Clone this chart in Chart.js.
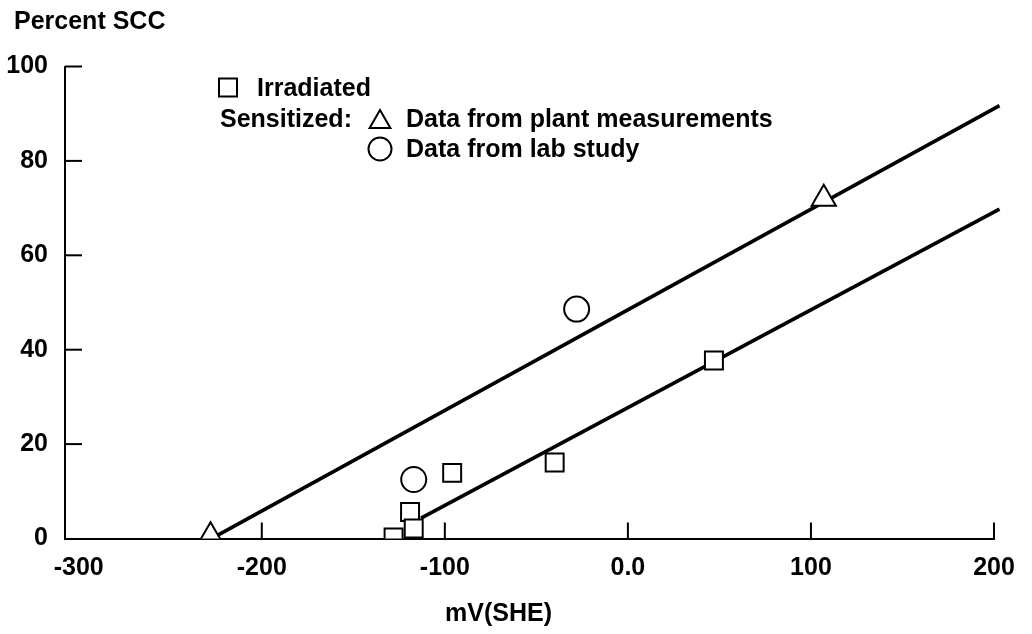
<!DOCTYPE html>
<html><head><meta charset="utf-8">
<script src="https://cdn.jsdelivr.net/npm/chart.js@4/dist/chart.umd.min.js"></script>
<style>html,body{margin:0;padding:0;background:#fff}#wrap{width:1032px;height:634px}</style>
</head><body><div id="wrap"><canvas id="c" width="1032" height="634"></canvas></div>
<script>
// ---- data ----
const xTicks = [-300, -200, -100, 0, 100, 200];
const xTickLabels = ['-300', '-200', '-100', '0.0', '100', '200'];
const yTicks = [0, 20, 40, 60, 80, 100];
const irradiatedX = [-128, -119, -117, -96, -40, 47];
const irradiatedY = [0.2, 5.6, 2.1, 13.9, 16.1, 37.7];
const plantX = [-228, 107];
const plantY = [0.5, 72];
const labX = [-117, -28];
const labY = [12.5, 48.6];
const upperLineX = [-224, 203];
const upperLineY = [0.7, 91.7];
const lowerLineX = [-113, 203];
const lowerLineY = [4.3, 69.8];
const legendLabels = ['Irradiated', 'Data from plant measurements', 'Data from lab study'];
const legendPrefix = 'Sensitized:';
const xTitle = 'mV(SHE)';
const yTitle = 'Percent SCC';

const FONT = '"Liberation Sans", Arial, Helvetica, sans-serif';
const pts = (xs, ys) => xs.map((x, i) => ({x: x, y: ys[i]}));

const markerBase = {showLine: false, backgroundColor: '#fff', borderColor: '#000', borderWidth: 2, order: 0};
const lineBase = {showLine: true, pointRadius: 0, borderColor: '#000', borderWidth: 3.6, clip: false, order: 1, fill: false};

const decor = {
  id: 'decor',
  beforeDatasetsDraw(chart) {
    const ctx = chart.ctx, xs = chart.scales.x, ys = chart.scales.y;
    const yb = ys.getPixelForValue(0), xl = chart.chartArea.left;
    ctx.save();
    ctx.strokeStyle = '#000'; ctx.lineWidth = 2;
    xTicks.forEach(v => {
      if (v <= -300) return;
      const px = xs.getPixelForValue(v);
      ctx.beginPath(); ctx.moveTo(px, yb); ctx.lineTo(px, yb - 16); ctx.stroke();
    });
    yTicks.forEach(v => {
      if (v <= 0) return;
      const py = ys.getPixelForValue(v);
      ctx.beginPath(); ctx.moveTo(xl, py); ctx.lineTo(xl + 17, py); ctx.stroke();
    });
    ctx.restore();
  },
  afterDraw(chart) {
    const ctx = chart.ctx;
    ctx.save();
    ctx.fillStyle = '#000';
    ctx.font = 'bold 25px ' + FONT;
    ctx.textBaseline = 'alphabetic';
    ctx.textAlign = 'left';
    ctx.fillText(yTitle, 14, 29);
    ctx.fillText(xTitle, 445, 621);
    // legend
    ctx.fillText(legendLabels[0], 257, 96);
    ctx.fillText(legendPrefix, 220, 127);
    ctx.fillText(legendLabels[1], 406, 127);
    ctx.fillText(legendLabels[2], 406, 157);
    ctx.strokeStyle = '#000'; ctx.lineWidth = 2; ctx.fillStyle = '#fff';
    // square
    ctx.beginPath(); ctx.rect(219, 78.5, 18, 18); ctx.fill(); ctx.stroke();
    // triangle
    const tx = 380, ty = 122, r = 12;
    ctx.beginPath();
    ctx.moveTo(tx, ty - r);
    ctx.lineTo(tx + r * Math.sin(2 * Math.PI / 3), ty - r * Math.cos(2 * Math.PI / 3));
    ctx.lineTo(tx + r * Math.sin(4 * Math.PI / 3), ty - r * Math.cos(4 * Math.PI / 3));
    ctx.closePath(); ctx.fill(); ctx.stroke();
    // circle
    ctx.beginPath(); ctx.arc(380, 149, 11.5, 0, 2 * Math.PI); ctx.fill(); ctx.stroke();
    ctx.restore();
  }
};

new Chart(document.getElementById('c'), {
  type: 'scatter',
  data: {
    datasets: [
      Object.assign({label: 'upper fit', data: pts(upperLineX, upperLineY)}, lineBase),
      Object.assign({label: 'lower fit', data: pts(lowerLineX, lowerLineY)}, lineBase),
      Object.assign({label: legendLabels[0], data: pts(irradiatedX, irradiatedY), pointStyle: 'rect', pointRadius: 12.7}, markerBase),
      Object.assign({label: legendLabels[1], data: pts(plantX, plantY), pointStyle: 'triangle', pointRadius: 14}, markerBase),
      Object.assign({label: legendLabels[2], data: pts(labX, labY), pointStyle: 'circle', pointRadius: 12.5}, markerBase)
    ]
  },
  options: {
    responsive: false,
    devicePixelRatio: 1,
    animation: false,
    events: [],
    layout: {padding: {top: 66.5, right: 38, left: 0, bottom: 0}},
    plugins: {legend: {display: false}, tooltip: {enabled: false}, title: {display: false}},
    scales: {
      x: {
        type: 'linear', min: -307.5, max: 200,
        afterBuildTicks: s => { s.ticks = xTicks.map(v => ({value: v})); },
        afterFit: s => { s.height = 95.5; },
        grid: {display: false, drawTicks: false},
        border: {display: true, color: '#000', width: 2},
        ticks: {
          color: '#000', padding: 15, maxRotation: 0, autoSkip: false,
          font: {family: FONT, size: 25, weight: 'bold'},
          callback: v => { const i = xTicks.indexOf(v); return i >= 0 ? xTickLabels[i] : ''; }
        }
      },
      y: {
        type: 'linear', min: 0, max: 100,
        afterBuildTicks: s => { s.ticks = yTicks.map(v => ({value: v})); },
        afterFit: s => { s.width = 65; },
        grid: {display: false, drawTicks: false},
        border: {display: true, color: '#000', width: 2},
        ticks: {
          color: '#000', padding: 17,
          font: {family: FONT, size: 25, weight: 'bold'}
        }
      }
    }
  },
  plugins: [decor]
});
</script>
</body></html>
